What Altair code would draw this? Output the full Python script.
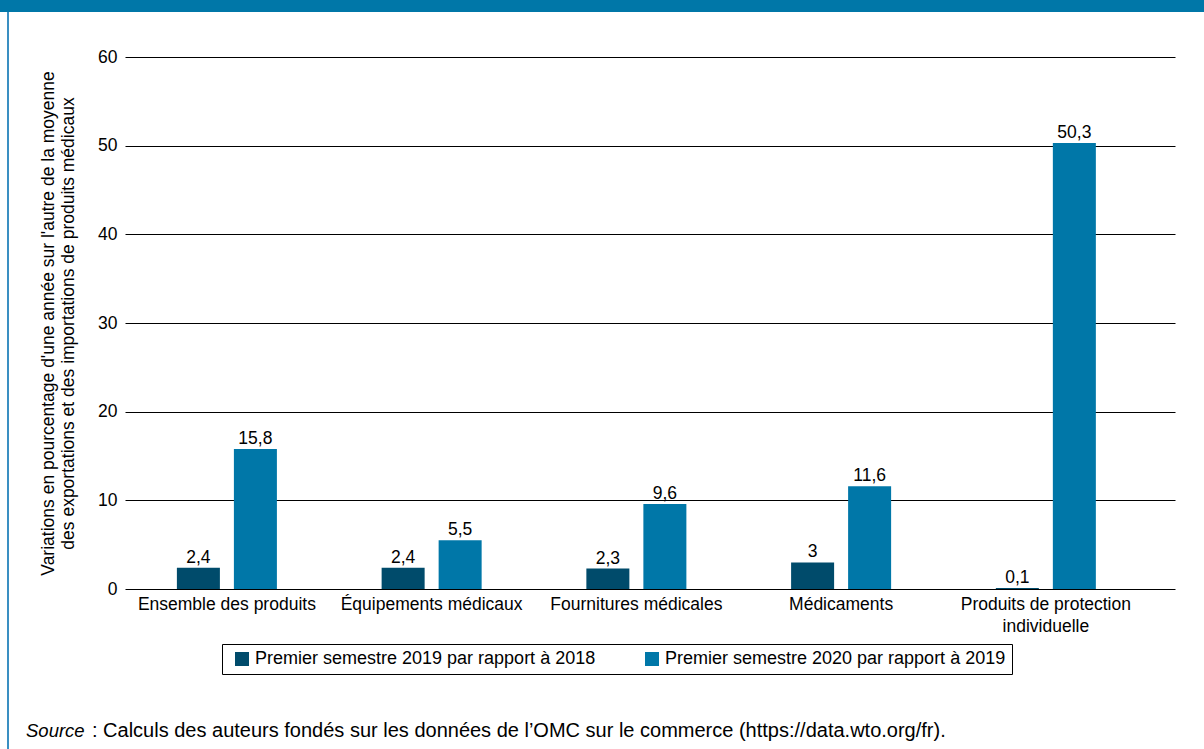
import altair as alt
import pandas as pd

categories = ["Ensemble des produits", "Équipements médicaux", "Fournitures médicales",
              "Médicaments", "Produits de protection individuelle"]
series = ["Premier semestre 2019 par rapport à 2018", "Premier semestre 2020 par rapport à 2019"]
values_2019 = [2.4, 2.4, 2.3, 3, 0.1]
values_2020 = [15.8, 5.5, 9.6, 11.6, 50.3]
y_ticks = [0, 10, 20, 30, 40, 50, 60]
colors = ["#004B6B", "#0077A8"]

rows = []
for s, vals in zip(series, [values_2019, values_2020]):
    for c, v in zip(categories, vals):
        rows.append({"cat": c, "series": s, "v": v, "label": str(v).replace(".", ",")})
df = pd.DataFrame(rows)

FONT = "Liberation Sans"
FS = 17.5

x_enc = alt.X("cat:N", sort=categories,
              scale=alt.Scale(paddingInner=0.5115, paddingOuter=0.32, align=0.396),
              axis=alt.Axis(title=None, domain=False, ticks=False, labelAngle=0, labelFontSize=FS,
                            labelColor="black", labelPadding=6, labelFont=FONT, labelLineHeight=22,
                            labelLimit=400, labelOverlap=False,
                            labelExpr="datum.label == 'Produits de protection individuelle' ? ['Produits de protection', 'individuelle'] : datum.label"))
xo_enc = alt.XOffset("series:N", sort=series, scale=alt.Scale(paddingInner=0.2456, paddingOuter=0))
y_enc = alt.Y("v:Q", scale=alt.Scale(domain=[0, 60], nice=False),
              axis=alt.Axis(values=y_ticks, grid=True, gridColor="black", gridWidth=1, domain=False,
                            ticks=False, labelFontSize=FS, labelColor="black", labelPadding=8,
                            labelFont=FONT,
                            title=["Variations en pourcentage d'une année sur l'autre de la moyenne",
                                   "des exportations et des importations de produits médicaux"],
                            titleFontSize=17.5, titleFontWeight="normal", titleColor="black",
                            titleFont=FONT, titlePadding=20, titleLineHeight=20))

base = alt.Chart(df)
bars = base.mark_bar().encode(
    x=x_enc, xOffset=xo_enc, y=y_enc,
    color=alt.Color("series:N", sort=series, scale=alt.Scale(domain=series, range=colors),
                    legend=alt.Legend(title=None, orient="none", legendX=97, legendY=587,
                                      direction="horizontal", strokeColor="black", padding=6,
                                      symbolType="square", symbolSize=196, symbolStrokeWidth=0,
                                      symbolOffset=5,
                                      labelFontSize=18, labelFont=FONT, labelColor="black",
                                      columnPadding=42, labelLimit=600))
)
texts = base.mark_text(baseline="alphabetic", dy=-5, fontSize=FS, font=FONT, color="black").encode(
    x=x_enc, xOffset=xo_enc, y=y_enc, text="label:N")

one = alt.Data(values=[{"a": 1}])
header = alt.Chart(one).mark_rect(color="#0077A8").encode(
    x=alt.value(-125), x2=alt.value(1079), y=alt.value(-57), y2=alt.value(-45))
border = alt.Chart(one).mark_rule(color="#3A8FC2", strokeWidth=2).encode(
    x=alt.value(-117), y=alt.value(-45), y2=alt.value(692))
src1 = alt.Chart(one).mark_text(align="left", baseline="middle", fontSize=18.5, font=FONT,
                                fontStyle="italic", color="black").encode(
    x=alt.value(-99), y=alt.value(674), text=alt.value("Source"))
src2 = alt.Chart(one).mark_text(align="left", baseline="middle", fontSize=20, font=FONT,
                                color="black").encode(
    x=alt.value(-33), y=alt.value(674),
    text=alt.value(": Calculs des auteurs fondés sur les données de l’OMC sur le commerce (https://data.wto.org/fr)."))

chart = alt.layer(bars, texts, header, border, src1, src2).properties(
    width=1050, height=532,
    autosize=alt.AutoSizeParams(type="none"),
    padding={"left": 125, "top": 57, "right": 29, "bottom": 160},
    background="white",
).configure_view(stroke=None)

chart.save("out.html", embed_options={"renderer": "svg", "actions": False})
